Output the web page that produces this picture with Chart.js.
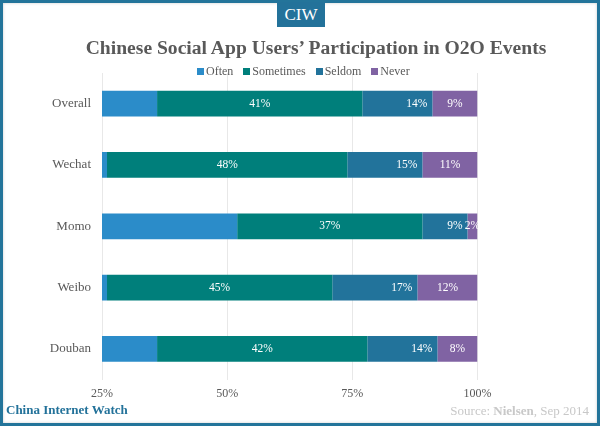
<!DOCTYPE html>
<html lang="en">
<head>
  <meta charset="utf-8" />
  <title>Chinese Social App Users' Participation in O2O Events</title>
  <script src="https://cdn.jsdelivr.net/npm/chart.js"></script>
  <style>
    html, body { margin: 0; padding: 0; background: #fff; }
    #wrap { position: relative; width: 600px; height: 426px; overflow: hidden; font-family: "Liberation Serif", serif; }
    #wrap canvas { position: absolute; left: 0; top: 0; }
    #frame { position: absolute; left: 0; top: 0; width: 594px; height: 420px; border: 3px solid #23749a; box-shadow: inset 0 0 3px #ccc; }
    #badge { position: absolute; left: 277px; top: 2px; width: 48px; height: 25px; line-height: 25px; background: #23729a; color: #fff; text-align: center; font-size: 17px; }
    #title { position: absolute; left: 0; top: 36px; width: 632px; text-align: center; font-size: 19.6px; line-height: 24px; font-weight: bold; color: #595959; white-space: nowrap; }
    #legend { position: absolute; left: 197px; top: 64px; display: flex; font-size: 12px; line-height: 14px; color: #595959; white-space: nowrap; }
    #legend span { display: flex; align-items: center; margin-right: 10px; }
    #legend i { display: block; width: 7px; height: 7px; margin-right: 2px; }
    #brand { position: absolute; left: 6px; top: 402px; font-size: 13px; line-height: 15px; font-weight: bold; color: #23729a; }
    #source { position: absolute; right: 11px; top: 403px; font-size: 13px; line-height: 15px; color: #c8c8c8; }
  </style>
</head>
<body>
  <div id="wrap">
    <canvas id="chart" width="600" height="426"></canvas>
    <div id="frame"></div>
    <div id="badge">CIW</div>
    <div id="title">Chinese Social App Users’ Participation in O2O Events</div>
    <div id="legend"></div>
    <div id="brand">China Internet Watch</div>
    <div id="source">Source: <b>Nielsen</b>, Sep 2014</div>
  </div>

  <script>
    const apps = ['Overall', 'Wechat', 'Momo', 'Weibo', 'Douban'];
    const often = [36, 26, 52, 26, 36];
    const sometimes = [41, 48, 37, 45, 42];
    const seldom = [14, 15, 9, 17, 14];
    const never = [9, 11, 2, 12, 8];
    const seriesNames = ['Often', 'Sometimes', 'Seldom', 'Never'];
    const seriesColors = ['#2b8cc9', '#007f7b', '#22739b', '#8063a3'];

    // Often has no label in the original, Seldom labels sit at the right end of the bar
    const labelAlign = [null, 'center', 'end', 'center'];

    const barLabels = {
      id: 'barLabels',
      afterDatasetsDraw(chart) {
        const ctx = chart.ctx;
        ctx.save();
        ctx.font = '11.5px "Liberation Serif"';
        ctx.fillStyle = '#fff';
        ctx.textBaseline = 'middle';
        chart.data.datasets.forEach((ds, i) => {
          if (!labelAlign[i]) return;
          chart.getDatasetMeta(i).data.forEach((bar, j) => {
            const text = ds.data[j] + '%';
            if (labelAlign[i] === 'end') {
              ctx.textAlign = 'right';
              ctx.fillText(text, bar.x - 5, bar.y);
            } else {
              ctx.textAlign = 'center';
              ctx.fillText(text, bar.x - bar.width / 2, bar.y);
            }
          });
        });
        ctx.restore();
      }
    };

    const values = [often, sometimes, seldom, never];

    new Chart(document.getElementById('chart'), {
      type: 'bar',
      data: {
        labels: apps,
        datasets: seriesNames.map((name, i) => ({
          label: name,
          data: values[i],
          backgroundColor: seriesColors[i],
          categoryPercentage: 1,
          barPercentage: 0.42
        }))
      },
      options: {
        indexAxis: 'y',
        responsive: false,
        animation: false,
        layout: { padding: { top: 73, right: 122.5, bottom: 18 } },
        plugins: {
          legend: { display: false },
          tooltip: { enabled: false }
        },
        scales: {
          x: {
            stacked: true,
            min: 25,
            max: 100,
            border: { display: false },
            grid: { color: '#e8e8e8', drawTicks: false },
            ticks: {
              stepSize: 25,
              padding: 7,
              color: '#595959',
              font: { family: 'Liberation Serif', size: 12 },
              callback: v => v + '%'
            }
          },
          y: {
            stacked: true,
            border: { display: false },
            grid: { display: false, drawTicks: false },
            afterFit: scale => { scale.width = 102; },
            ticks: {
              padding: 11,
              color: '#595959',
              font: { family: 'Liberation Serif', size: 13 }
            }
          }
        }
      },
      plugins: [barLabels]
    });

    const legend = document.getElementById('legend');
    seriesNames.forEach((name, i) => {
      const item = document.createElement('span');
      const box = document.createElement('i');
      box.style.background = seriesColors[i];
      item.appendChild(box);
      item.appendChild(document.createTextNode(name));
      legend.appendChild(item);
    });
  </script>
</body>
</html>
